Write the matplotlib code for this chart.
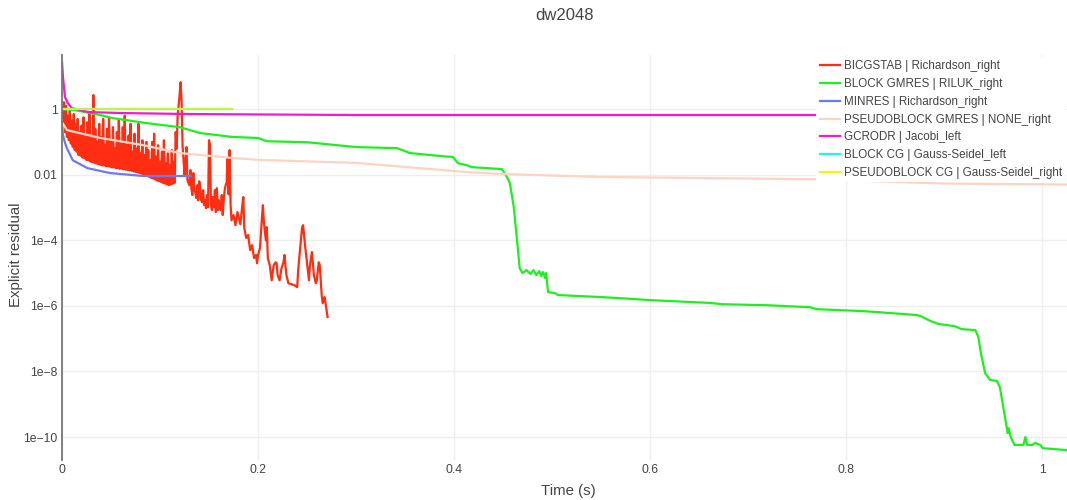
import numpy as np
import matplotlib
matplotlib.use("Agg")
import matplotlib.pyplot as plt

plt.rcParams['font.family'] = ['Liberation Sans', 'DejaVu Sans']

# ---- data (time in s, log10 of explicit residual) ----
bicgstab_t = [0.000, 0.001, 0.002, 0.003, 0.004, 0.005, 0.006, 0.007, 0.008, 0.009,
              0.010, 0.011, 0.012, 0.013, 0.014, 0.015, 0.016, 0.017, 0.018, 0.019,
              0.020, 0.021, 0.022, 0.023, 0.024, 0.025, 0.026, 0.027, 0.028, 0.029,
              0.030, 0.031, 0.032, 0.033, 0.034, 0.035, 0.036, 0.037, 0.038, 0.039,
              0.040, 0.041, 0.042, 0.043, 0.044, 0.045, 0.046, 0.047, 0.048, 0.049,
              0.050, 0.051, 0.052, 0.053, 0.054, 0.055, 0.056, 0.057, 0.058, 0.059,
              0.060, 0.061, 0.062, 0.063, 0.064, 0.065, 0.066, 0.067, 0.068, 0.069,
              0.070, 0.071, 0.072, 0.073, 0.074, 0.075, 0.076, 0.077, 0.078, 0.079,
              0.080, 0.081, 0.082, 0.083, 0.084, 0.085, 0.086, 0.087, 0.088, 0.089,
              0.090, 0.091, 0.092, 0.093, 0.094, 0.095, 0.096, 0.097, 0.098, 0.099,
              0.100, 0.101, 0.102, 0.103, 0.104, 0.105, 0.106, 0.107, 0.108, 0.109,
              0.110, 0.111, 0.112, 0.113, 0.114, 0.115, 0.116, 0.117, 0.118, 0.120,
              0.121, 0.122, 0.123, 0.124, 0.125, 0.126, 0.127, 0.128, 0.130, 0.131,
              0.132, 0.133, 0.134, 0.135, 0.136, 0.137, 0.138, 0.139, 0.140, 0.141,
              0.142, 0.143, 0.144, 0.145, 0.146, 0.147, 0.148, 0.149, 0.150, 0.151,
              0.152, 0.153, 0.154, 0.155, 0.156, 0.157, 0.158, 0.159, 0.160, 0.161,
              0.162, 0.163, 0.164, 0.165, 0.166, 0.167, 0.168, 0.169, 0.170, 0.171,
              0.172, 0.173, 0.175, 0.177, 0.179, 0.182, 0.184,
              0.185, 0.186, 0.188, 0.190, 0.192, 0.194, 0.196, 0.198, 0.199, 0.200,
              0.202, 0.204, 0.205, 0.206, 0.208, 0.209, 0.210, 0.212, 0.214, 0.216,
              0.218, 0.219, 0.220, 0.222, 0.224, 0.226, 0.227, 0.229, 0.231, 0.234,
              0.237, 0.240, 0.241, 0.243, 0.245, 0.246, 0.248, 0.250, 0.252, 0.253,
              0.255, 0.257, 0.259, 0.260, 0.262, 0.263, 0.265, 0.266, 0.268, 0.270,
              0.271]
bicgstab_log = [-0.12, -0.49, 0.21, -0.70, 0.10, -0.85, -0.20, -0.95, -0.05, -1.05,
                -0.35, -1.15, -0.15, -1.25, -0.45, -1.30, -0.30, -1.40, -0.70, -1.42,
                -0.50, -1.48, -0.25, -1.50, -0.80, -1.55, -0.40, -1.56, -0.10, -1.60,
                -0.90, -1.62, 0.43, -1.64, -0.60, -1.66, -1.00, -1.68, -0.45, -1.70,
                -0.85, -1.72, -0.30, -1.72, -1.10, -1.74, -0.60, -1.75, -0.25, -1.76,
                -1.00, -1.78, -0.55, -1.78, -1.20, -1.80, -0.70, -1.80, -0.30, -1.82,
                -1.05, -1.82, -0.55, -1.84, -0.20, -1.85, -1.10, -1.86, -0.80, -1.87,
                -0.45, -1.88, -1.30, -1.90, -0.75, -1.92, -1.20, -1.93, -0.45, -1.95,
                -1.35, -1.97, -0.95, -1.99, -1.40, -2.01, -1.00, -2.04, -1.25, -2.07,
                -1.55, -2.10, -1.00, -2.12, -0.75, -2.15, -1.45, -2.18, -1.10, -2.20,
                -1.60, -2.22, -1.30, -2.25, -0.95, -2.27, -1.65, -2.30, -1.35, -2.32,
                -1.70, -2.30, -1.25, -2.28, -1.60, -2.25, -0.70, -1.20, -0.20, 0.43,
                0.82, 0.27, -1.10, -1.56, -2.01, -1.62, -1.16, -2.17, -2.32, -1.86,
                -2.41, -2.62, -1.95, -2.47, -2.53, -2.71, -2.32, -2.78, -2.20, -2.38,
                -2.78, -2.84, -2.47, -2.93, -2.78, -3.02, -2.62, -2.99, -0.95, -1.10,
                -2.93, -3.08, -2.68, -2.99, -2.47, -3.14, -2.41, -3.08, -2.78, -2.99,
                -3.08, -2.62, -3.23, -2.78, -2.47, -2.32, -2.23, -1.50, -2.60, -1.25,
                -2.90, -3.39, -3.23, -3.54, -3.14, -3.51, -2.93,
                -2.68, -3.63, -3.93, -3.84, -4.30, -4.15, -4.54, -4.45, -4.70, -4.45,
                -4.24, -3.32, -2.93, -3.45, -4.00, -3.60, -4.54, -4.76, -5.22, -4.76,
                -4.67, -4.70, -5.06, -5.22, -4.85, -4.67, -4.45, -5.06, -5.31, -5.34,
                -5.37, -5.43, -4.91, -4.24, -3.60, -3.54, -4.15, -4.70, -5.22, -4.76,
                -4.36, -5.06, -5.31, -5.22, -4.67, -4.76, -5.67, -5.92, -5.73, -6.13,
                -6.34]

block_gmres_t = [0.000, 0.013, 0.039, 0.051, 0.087, 0.120, 0.141, 0.174, 0.200, 0.209,
                 0.250, 0.301, 0.342, 0.355, 0.386, 0.399, 0.404, 0.413, 0.418, 0.449,
                 0.454, 0.457, 0.461, 0.465, 0.467, 0.470, 0.474, 0.478, 0.481, 0.484,
                 0.487, 0.489, 0.491, 0.493, 0.494, 0.495, 0.496, 0.503, 0.506, 0.549,
                 0.583, 0.597, 0.661, 0.674, 0.719, 0.763, 0.770, 0.817, 0.832, 0.872,
                 0.876, 0.886, 0.894, 0.911, 0.918, 0.932, 0.935, 0.938, 0.942, 0.947,
                 0.954, 0.957, 0.961, 0.965, 0.966, 0.968, 0.972, 0.981, 0.983, 0.985,
                 0.990, 0.993, 0.998, 1.001, 1.026]
block_gmres_log = [0.00, -0.03, -0.18, -0.27, -0.43, -0.55, -0.73, -0.85, -0.88, -0.98,
                   -1.01, -1.16, -1.19, -1.34, -1.43, -1.46, -1.65, -1.71, -1.77, -1.83,
                   -2.07, -2.26, -2.99, -4.21, -4.85, -5.00, -4.91, -5.03, -4.91, -5.06,
                   -4.94, -5.09, -4.97, -5.15, -5.00, -5.31, -5.58, -5.61, -5.67, -5.73,
                   -5.79, -5.82, -5.91, -5.95, -5.98, -6.04, -6.10, -6.16, -6.19, -6.28,
                   -6.31, -6.46, -6.55, -6.62, -6.71, -6.74, -6.95, -7.50, -8.05, -8.26,
                   -8.29, -8.48, -9.18, -9.88, -9.73, -10.00, -10.24, -10.24, -10.00, -10.24,
                   -10.24, -10.18, -10.24, -10.34, -10.40]

minres_t = [0.000, 0.001, 0.003, 0.005, 0.011, 0.026, 0.049, 0.083, 0.131]
minres_log = [-0.49, -0.80, -1.02, -1.19, -1.56, -1.80, -1.95, -2.04, -2.04]

pb_gmres_t = [0.000, 0.005, 0.039, 0.083, 0.120, 0.174, 0.202, 0.300, 0.413, 0.450,
              0.550, 0.650, 0.770, 0.900, 1.026]
pb_gmres_log = [-0.40, -0.64, -0.88, -1.10, -1.34, -1.49, -1.55, -1.64, -1.92, -1.98,
                -2.07, -2.10, -2.14, -2.27, -2.30]

gcrodr_t = [0.000, 0.001, 0.003, 0.006, 0.010, 0.027, 0.061, 0.129, 0.300, 0.780]
gcrodr_log = [1.43, 0.98, 0.37, 0.18, 0.03, -0.09, -0.12, -0.15, -0.18, -0.18]

block_cg_t = [0.000, 0.173]
block_cg_log = [0.00, 0.00]

pb_cg_t = [0.000, 0.173]
pb_cg_log = [0.00, 0.00]

series = [
    ("BICGSTAB | Richardson_right", bicgstab_t, bicgstab_log, "#ff2d12", 1.0),
    ("BLOCK GMRES | RILUK_right", block_gmres_t, block_gmres_log, "#1ef01e", 1.0),
    ("MINRES | Richardson_right", minres_t, minres_log, "#6d78f2", 1.0),
    ("PSEUDOBLOCK GMRES | NONE_right", pb_gmres_t, pb_gmres_log, "#fdd3c2", 1.0),
    ("GCRODR | Jacobi_left", gcrodr_t, gcrodr_log, "#ff14cf", 1.0),
    ("BLOCK CG | Gauss-Seidel_left", block_cg_t, block_cg_log, "#22f2f2", 1.0),
    ("PSEUDOBLOCK CG | Gauss-Seidel_right", pb_cg_t, pb_cg_log, "#f6f60c", 0.75),
]

fig = plt.figure(figsize=(10.67, 5.0), dpi=100)
ax = fig.add_axes([62 / 1067, 1 - 460 / 500, 1 - 62 / 1067, 405 / 500])

for label, t, lg, color, alpha in series:
    ax.plot(t, 10 ** np.array(lg), color=color, lw=1.6, alpha=alpha, label=label,
            solid_joinstyle='round')

ax.set_yscale('log')
ax.set_xlim(0, 1.0255)
ax.set_ylim(10 ** -10.7, 10 ** 1.65)

yticks = [1, 1e-2, 1e-4, 1e-6, 1e-8, 1e-10]
ylabels = ["1", "0.01", "1e\u22124", "1e\u22126", "1e\u22128", "1e\u221210"]
ax.set_yticks(yticks)
ax.set_yticklabels(ylabels)
ax.yaxis.set_minor_locator(matplotlib.ticker.NullLocator())
xticks = [0, 0.2, 0.4, 0.6, 0.8, 1]
ax.set_xticks(xticks)
ax.set_xticklabels(["0", "0.2", "0.4", "0.6", "0.8", "1"])

ax.tick_params(length=0, labelsize=8.8, colors="#444444")
ax.tick_params(axis="y", pad=3)
ax.tick_params(axis="x", pad=3)
ax.grid(True, color="#eeeeee", lw=1)
ax.set_axisbelow(True)
for side in ["top", "right", "bottom"]:
    ax.spines[side].set_visible(False)
ax.spines["left"].set_color("#777777")
ax.spines["left"].set_linewidth(1.3)

fig.text(568 / 1067, 1 - 491 / 500, "Time (s)", fontsize=10.8, color="#444444",
         ha="center", va="center")
fig.text(16 / 1067, 1 - 255 / 500, "Explicit residual", fontsize=10.8, color="#444444",
         ha="center", va="center", rotation=90)
fig.text(565 / 1067, 1 - 16 / 500, "dw2048", fontsize=12, color="#444444",
         ha="center", va="center")

leg = fig.legend(loc="upper left", bbox_to_anchor=(816 / 1067, 1 - 57 / 500),
                 fontsize=8.4, frameon=True, facecolor="white", edgecolor="none",
                 framealpha=1, fancybox=False, handlelength=1.75, handletextpad=0.35,
                 labelspacing=0.49, borderpad=0.3, borderaxespad=0)
for txt in leg.get_texts():
    txt.set_color("#444444")
for ln in leg.get_lines():
    ln.set_alpha(1.0)

fig.savefig("out.png", dpi=100)
